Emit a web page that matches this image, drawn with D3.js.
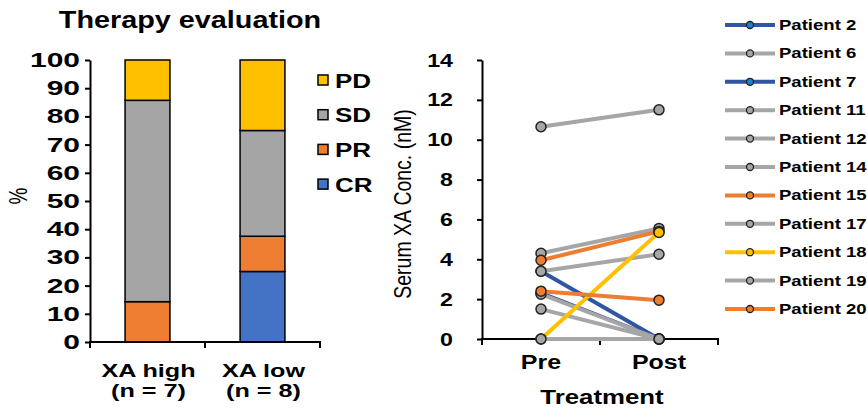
<!DOCTYPE html>
<html>
<head>
<meta charset="utf-8">
<script src="https://cdn.jsdelivr.net/npm/d3@7"></script>
<style>
  body { margin: 0; background: #fff; }
  svg { display: block; font-family: "Liberation Sans", Arial, sans-serif; }
</style>
</head>
<body>
<div id="chart"></div>
<script>
// data - left panel (therapy evaluation, %)
var groups = ["XA high", "XA low"];
var groupN = ["(n = 7)", "(n = 8)"];
var responses = ["CR", "PR", "SD", "PD"];
var crValues = [0, 25];
var prValues = [14.3, 12.5];
var sdValues = [71.4, 37.5];
var pdValues = [14.3, 25];
var pctTicks = [0, 10, 20, 30, 40, 50, 60, 70, 80, 90, 100];

// data - right panel (serum XA, nM)
var timepoints = ["Pre", "Post"];
var patients = ["Patient 2", "Patient 6", "Patient 7", "Patient 11", "Patient 12", "Patient 14",
  "Patient 15", "Patient 17", "Patient 18", "Patient 19", "Patient 20"];
var preValues  = [3.4, 10.65, 2.3, 4.3, 3.4, 2.25, 3.95, 1.5, 0, 0, 2.4];
var postValues = [0, 11.5, 0, 5.55, 4.25, 0, 5.4, 0, 5.35, 0, 1.95];
var patientGroup = ["blue", "gray", "blue", "gray", "gray", "gray", "orange", "gray", "yellow", "gray", "orange"];
var concTicks = [0, 2, 4, 6, 8, 10, 12, 14];

var W = 867, H = 415;

var respColor = { CR: "#4472c4", PR: "#ed7d31", SD: "#a5a5a5", PD: "#ffc000" };
var lineColor = { blue: "#2f55a3", gray: "#a6a6a6", orange: "#ed7d31", yellow: "#ffc000" };
var dotColor = { blue: "#1f80d0", gray: "#a6a6a6", orange: "#ed7d31", yellow: "#ffc000" };

var svg = d3.select("#chart").append("svg")
  .attr("width", W)
  .attr("height", H);

// the source picture is stretched sideways, the left half more than the right
function stretch(sel, sx) {
  sel.each(function () {
    var t = d3.select(this);
    var x = +t.attr("x") || 0, y = +t.attr("y") || 0;
    t.attr("x", 0).attr("y", 0)
      .attr("transform", "translate(" + x + "," + y + ") scale(" + sx + ",1)");
  });
}

function label(x, y, txt, size, sx, anchor, weight) {
  return svg.append("text")
    .attr("transform", "translate(" + x + "," + y + ") scale(" + sx + ",1)")
    .attr("text-anchor", anchor || "middle")
    .attr("font-size", size)
    .attr("font-weight", weight || "bold")
    .attr("fill", "#000")
    .text(txt);
}

function styleAxis(g, size) {
  g.select(".domain").attr("stroke", "#000").attr("stroke-width", 2);
  g.selectAll(".tick line").attr("stroke", "#000").attr("stroke-width", 2);
  g.selectAll(".tick text")
    .attr("fill", "#000")
    .attr("font-size", size)
    .attr("font-weight", "bold")
    .attr("font-family", "Liberation Sans, Arial, sans-serif");
}

// ---------- left panel ----------
label(190, 28, "Therapy evaluation", 24, 1.2);

var x1 = d3.scaleBand().domain(groups).range([90, 320]);
var y1 = d3.scaleLinear().domain([0, 100]).range([342, 60]);

var rows = groups.map(function (g, i) {
  return { group: g, CR: crValues[i], PR: prValues[i], SD: sdValues[i], PD: pdValues[i] };
});
var stack = d3.stack().keys(responses)(rows);
var barW = x1.bandwidth() * 0.39;

svg.append("g")
  .selectAll("g")
  .data(stack)
  .join("g")
  .attr("fill", d => respColor[d.key])
  .selectAll("rect")
  .data(d => d.filter(s => s[1] - s[0] > 0))
  .join("rect")
  .attr("x", d => x1(d.data.group) + (x1.bandwidth() - barW) / 2)
  .attr("y", d => y1(d[1]))
  .attr("width", barW)
  .attr("height", d => y1(d[0]) - y1(d[1]))
  .attr("stroke", "#000")
  .attr("stroke-width", 1.5);

svg.append("g")
  .attr("transform", "translate(90,0)")
  .call(d3.axisLeft(y1).tickValues(pctTicks).tickSize(5).tickPadding(5).tickSizeOuter(0))
  .call(g => styleAxis(g, 20))
  .call(g => stretch(g.selectAll(".tick text"), 1.5));

// x axis with ticks at band edges
var gx1 = svg.append("g").attr("transform", "translate(0,342)");
gx1.append("line").attr("x1", 89).attr("x2", 321).attr("stroke", "#000").attr("stroke-width", 2);
gx1.selectAll("line.edge")
  .data([90, x1(groups[1]), 320])
  .join("line")
  .attr("class", "edge")
  .attr("x1", d => d).attr("x2", d => d)
  .attr("y1", 0).attr("y2", 6)
  .attr("stroke", "#000").attr("stroke-width", 2);

groups.forEach(function (g, i) {
  var cx = x1(g) + x1.bandwidth() / 2 + 1;
  label(cx, 377, g, 18, 1.4);
  label(cx, 397, groupN[i], 18, 1.4);
});

svg.append("text")
  .attr("transform", "translate(27,196) scale(1.4,1) rotate(-90)")
  .attr("text-anchor", "middle")
  .attr("font-size", 19)
  .attr("fill", "#000")
  .text("%");

// legend, top key first
var legL = svg.append("g");
responses.slice().reverse().forEach(function (r, i) {
  var cy = 80 + i * 34.7;
  legL.append("rect")
    .attr("x", 318).attr("y", cy - 5)
    .attr("width", 10).attr("height", 10)
    .attr("fill", respColor[r])
    .attr("stroke", "#000").attr("stroke-width", 1.5);
  label(335, cy + 7.5, r, 20, 1.3, "start");
});

// ---------- right panel ----------
var x2 = d3.scaleBand().domain(timepoints).range([482, 718]);
var y2 = d3.scaleLinear().domain([0, 14]).range([339, 60]);
var px = t => x2(t) + x2.bandwidth() / 2;

svg.append("g")
  .attr("transform", "translate(482,0)")
  .call(d3.axisLeft(y2).tickValues(concTicks).tickSize(5).tickPadding(24).tickSizeOuter(0))
  .call(g => styleAxis(g, 19))
  .call(g => stretch(g.selectAll(".tick text"), 1.22));

var gx2 = svg.append("g").attr("transform", "translate(0,339)");
gx2.append("line").attr("x1", 481).attr("x2", 719).attr("stroke", "#000").attr("stroke-width", 2);
gx2.selectAll("line.edge")
  .data([482, x2(timepoints[1]), 718])
  .join("line")
  .attr("class", "edge")
  .attr("x1", d => d).attr("x2", d => d)
  .attr("y1", 0).attr("y2", 6)
  .attr("stroke", "#000").attr("stroke-width", 2);

timepoints.forEach(function (t) {
  label(px(t), 369, t, 20, 1.25);
});
label(602, 404, "Treatment", 20, 1.29);

svg.append("text")
  .attr("transform", "translate(411,204) scale(1.2,1) rotate(-90)")
  .attr("text-anchor", "middle")
  .attr("font-size", 19.5)
  .attr("fill", "#000")
  .text("Serum XA Conc. (nM)");

var series = patients.map(function (p, i) {
  return { name: p, group: patientGroup[i], values: [preValues[i], postValues[i]] };
});

var line = d3.line()
  .x((d, i) => px(timepoints[i]))
  .y(d => y2(d));

var sg = svg.append("g")
  .selectAll("g")
  .data(series)
  .join("g");

sg.append("path")
  .attr("d", d => line(d.values))
  .attr("fill", "none")
  .attr("stroke", d => lineColor[d.group])
  .attr("stroke-width", 4);

sg.selectAll("circle")
  .data(d => d.values.map((v, i) => ({ v: v, t: timepoints[i], group: d.group })))
  .join("circle")
  .attr("cx", d => px(d.t))
  .attr("cy", d => y2(d.v))
  .attr("r", 5)
  .attr("fill", d => d.group === "blue" ? "#a6a6a6" : dotColor[d.group])
  .attr("stroke", "#222")
  .attr("stroke-width", 1.5);

// legend
var legR = svg.append("g");
series.forEach(function (s, i) {
  var cy = 25 + i * 28.4;
  legR.append("line")
    .attr("x1", 725).attr("x2", 775)
    .attr("y1", cy).attr("y2", cy)
    .attr("stroke", lineColor[s.group]).attr("stroke-width", 4);
  legR.append("circle")
    .attr("cx", 750).attr("cy", cy).attr("r", 3.5)
    .attr("fill", dotColor[s.group])
    .attr("stroke", "#222").attr("stroke-width", 1.3);
  label(779, cy + 5, s.name, 14.5, 1.28, "start");
});
</script>
</body>
</html>
